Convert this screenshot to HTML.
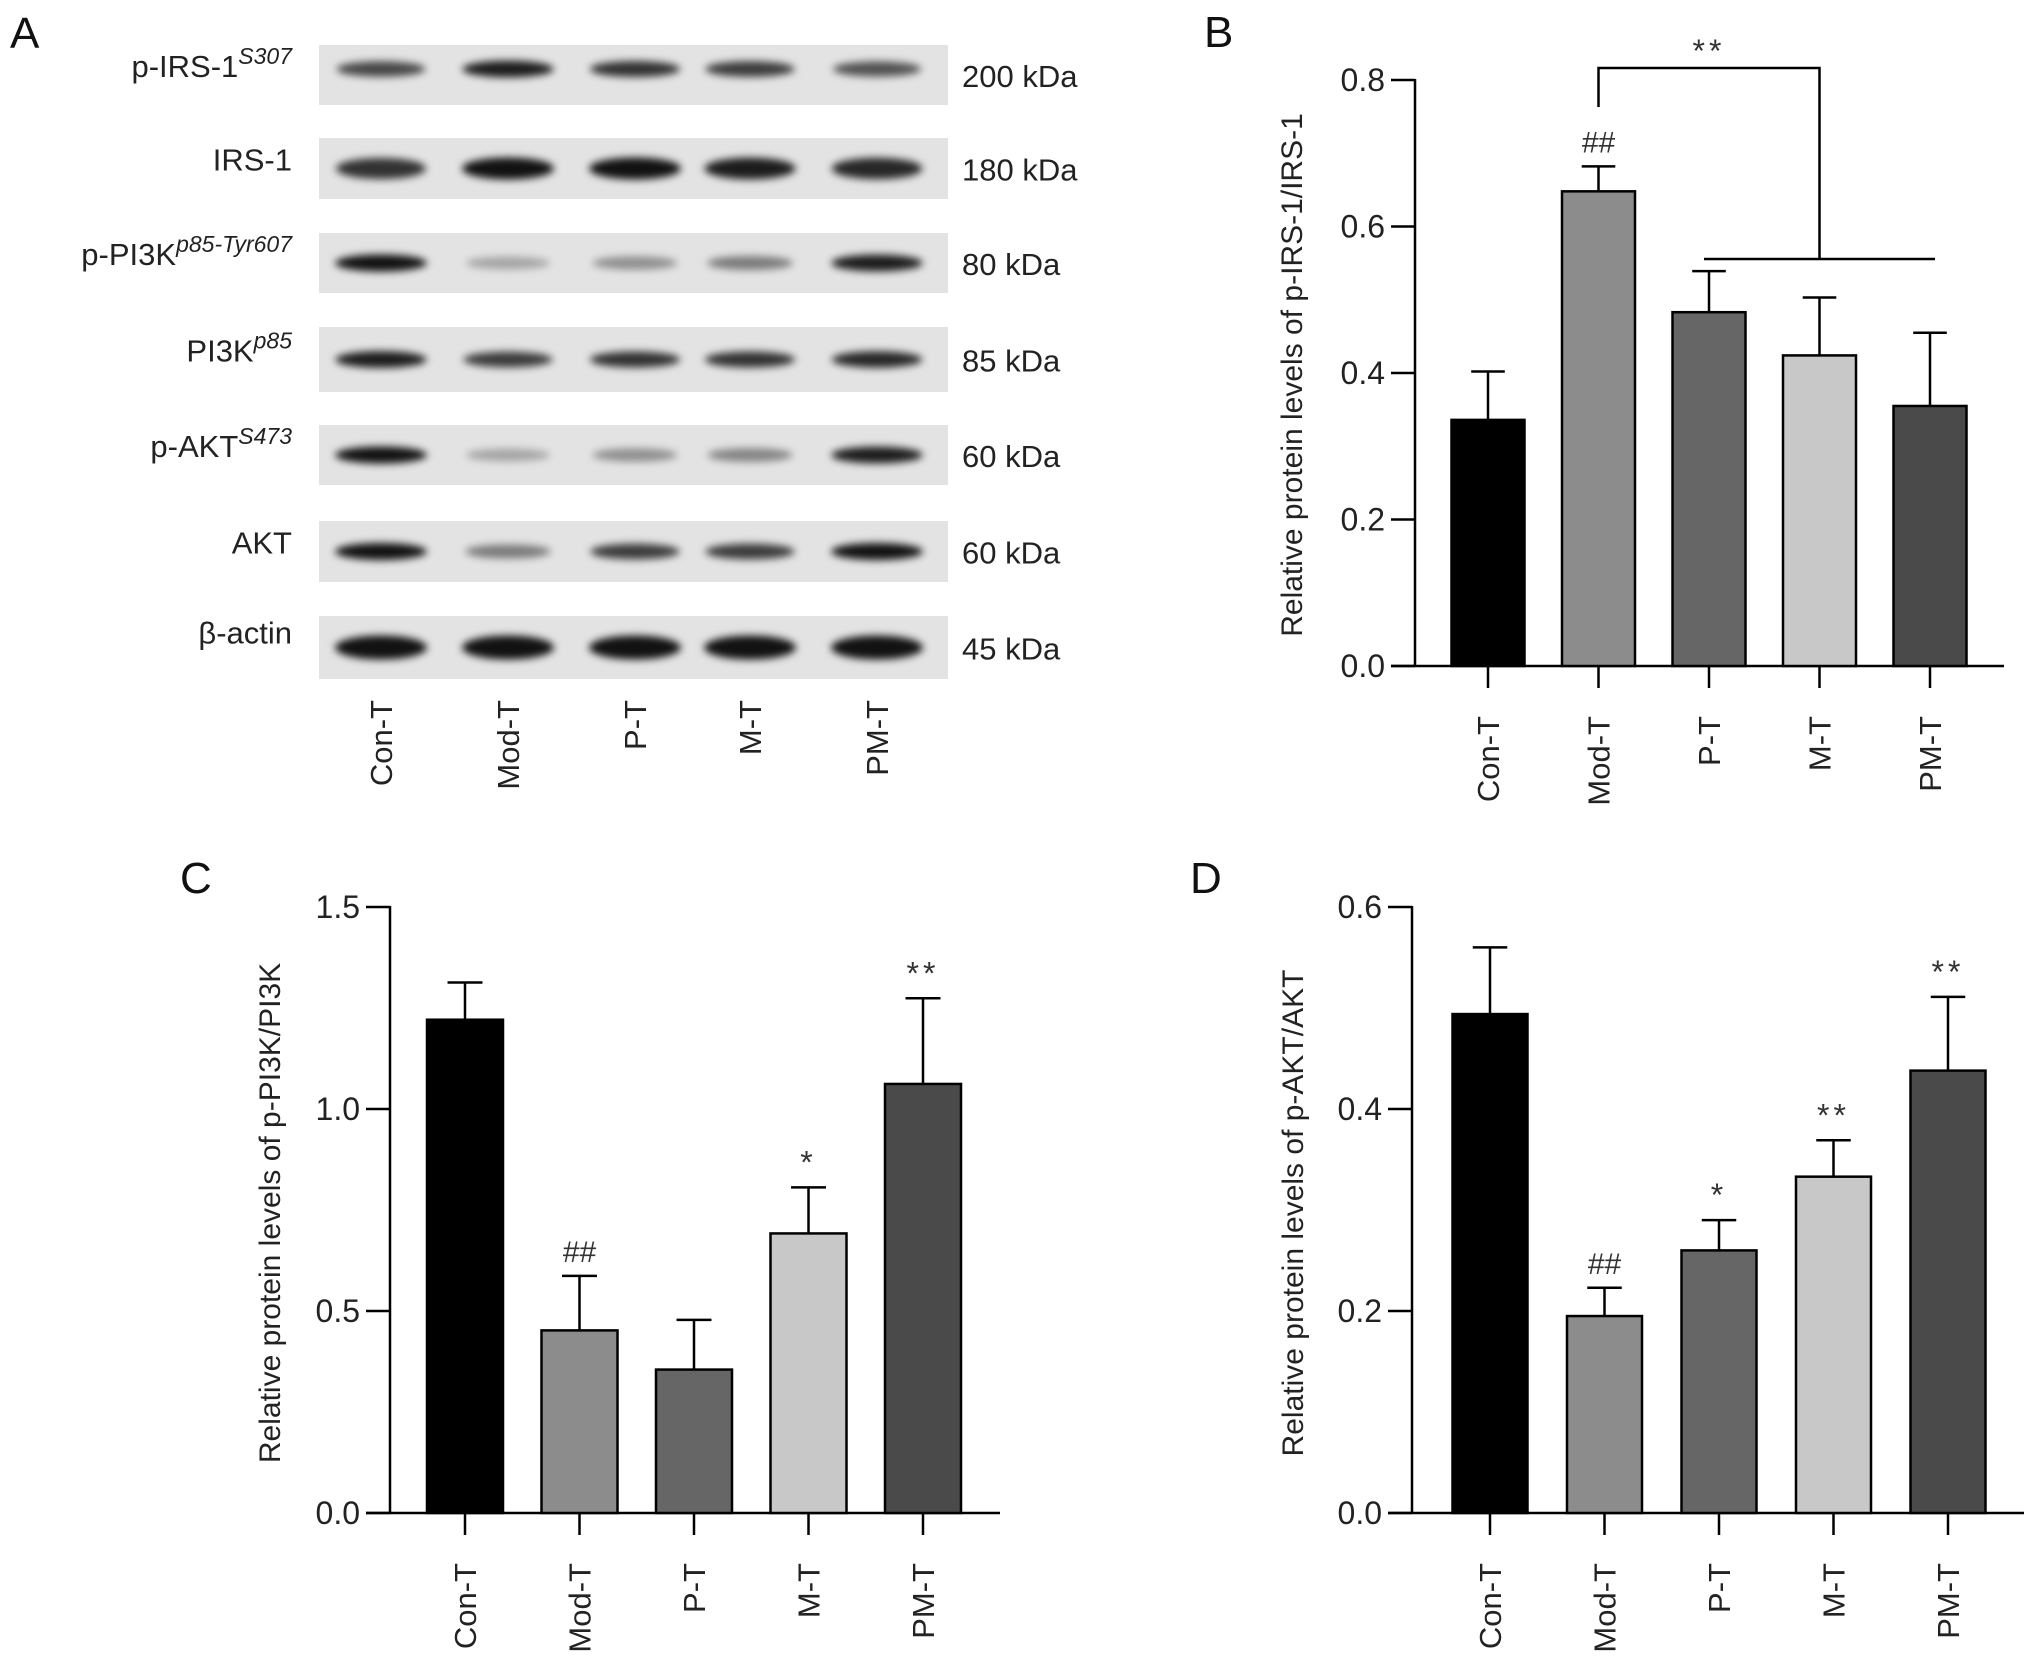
<!DOCTYPE html>
<html><head><meta charset="utf-8"><style>
html,body{margin:0;padding:0;background:#fff;}
svg{display:block;font-family:"Liberation Sans",Arial,sans-serif;}
</style></head><body>
<svg id="fig" width="2032" height="1664" viewBox="0 0 2032 1664" xmlns="http://www.w3.org/2000/svg">
<defs><filter id="blur" x="-20%" y="-80%" width="140%" height="260%"><feGaussianBlur stdDeviation="4"/></filter></defs>
<g id="panelA"></g>
<g id="panelB"></g>
<g id="panelC"></g>
<g id="panelD"></g>
</svg>
<script>
const categories = ["Con-T","Mod-T","P-T","M-T","PM-T"];
const barColors = ["#000000","#8c8c8c","#666666","#c8c8c8","#4a4a4a"];
const valuesB = [0.336,0.648,0.483,0.424,0.355];
const errorsB = [0.402,0.682,0.539,0.503,0.455];
const ticksB = ["0.0","0.2","0.4","0.6","0.8"];
const marksB = ["","##","","",""];
const valuesC = [1.221,0.452,0.355,0.692,1.062];
const errorsC = [1.313,0.587,0.478,0.806,1.274];
const ticksC = ["0.0","0.5","1.0","1.5"];
const marksC = ["","##","","*","**"];
const valuesD = [0.494,0.195,0.260,0.333,0.438];
const errorsD = [0.560,0.223,0.290,0.369,0.511];
const ticksD = ["0.0","0.2","0.4","0.6"];
const marksD = ["","##","*","**","**"];
const blotRows = ["p-IRS-1","IRS-1","p-PI3K","PI3K","p-AKT","AKT","β-actin"];
const blotSups = ["S307","","p85-Tyr607","p85","S473","",""];
const blotKda = ["200 kDa","180 kDa","80 kDa","85 kDa","60 kDa","60 kDa","45 kDa"];
const blotIntensity = [
 [0.75,0.95,0.85,0.8,0.7],
 [0.85,1,1,0.95,0.9],
 [1,0.3,0.4,0.5,0.95],
 [0.95,0.8,0.85,0.85,0.9],
 [1,0.3,0.4,0.45,0.95],
 [1,0.5,0.8,0.8,1],
 [1,1,1,1,1]];

const NS="http://www.w3.org/2000/svg";
function mk(parent,tag,attrs,text){const e=document.createElementNS(NS,tag);for(const k in attrs)e.setAttribute(k,attrs[k]);if(text!==undefined)e.textContent=text;parent.appendChild(e);return e;}

function chart(g,o){
  const yS=v=>o.y0-(v/o.ymax)*(o.y0-o.ytop);
  const xS=i=>o.x1+i*o.step;
  let ax=mk(g,'line',{x1:o.ax,y1:o.ytop-1,x2:o.ax,y2:o.y0,stroke:'#000','stroke-width':2.5});
  
  
  let bx=mk(g,'line',{x1:o.ax-24,y1:o.y0,x2:o.xend,y2:o.y0,stroke:'#000','stroke-width':2.5});
  
  
  o.ticks.forEach(t=>{const y=yS(parseFloat(t));
    mk(g,'line',{x1:o.ax-24,y1:y,x2:o.ax,y2:y,stroke:'#000','stroke-width':2.5});
    let tl=mk(g,'text',{x:o.ax-30,y:y+11,'text-anchor':'end','font-size':32,fill:'#222'},t);
    
    
  });
  categories.forEach((c,i)=>{const cx=xS(i);const w=o.bw;
    const yt=yS(o.vals[i]);
    mk(g,'line',{x1:cx,y1:yS(o.errs[i]),x2:cx,y2:yt,stroke:'#000','stroke-width':2.5});
    mk(g,'line',{x1:cx-w*0.23,y1:yS(o.errs[i]),x2:cx+w*0.23,y2:yS(o.errs[i]),stroke:'#000','stroke-width':2.5});
    let r=mk(g,'rect',{x:cx-w/2,y:yt,width:w,height:o.y0-yt,fill:barColors[i],stroke:'#000','stroke-width':2.5});
    
    
    mk(g,'line',{x1:cx,y1:o.y0,x2:cx,y2:o.y0+22,stroke:'#000','stroke-width':2.5});
    let cl=mk(g,'text',{x:0,y:0,transform:`translate(${cx+11},${o.y0+50}) rotate(-90)`,'text-anchor':'end','font-size':31,fill:'#222'},c);
    
    
    if(o.marks[i]){let m=mk(g,'text',{x:cx,y:yS(o.errs[i])-14,'text-anchor':'middle','font-size':o.marks[i][0]=='#'?30:32,'letter-spacing':o.marks[i][0]=='*'?4:0,fill:'#333'},o.marks[i]);
      
      }
  });
  let yl=mk(g,'text',{x:0,y:0,transform:`translate(${o.ylx},${o.yly}) rotate(-90)`,'text-anchor':'middle','font-size':30,fill:'#222'},o.ylabel);
  
  
  let pl=mk(g,'text',{x:o.lx,y:o.ly,'font-size':44,fill:'#111'},o.letter);
  
  
  return {xS,yS};
}

const B=chart(document.getElementById('panelB'),{ax:1415,xend:2004,x1:1488,step:110.5,bw:73,y0:666,ytop:80,ymax:0.8,ticks:ticksB,vals:valuesB,errs:errorsB,marks:marksB,ylabel:"Relative protein levels of p-IRS-1/IRS-1",ylx:1302,yly:375,letter:"B",lx:1204,ly:47});
(function(){const g=document.getElementById('panelB');
  const yb=68, x1=B.xS(1), x2=B.xS(3), yh=259;
  const br=mk(g,'path',{d:`M${x1},107 V${yb} H${x2} V${yh} M${B.xS(2)-5},${yh} H${B.xS(4)+5}`,fill:'none',stroke:'#000','stroke-width':2.5});
  
  
  const t=mk(g,'text',{x:(x1+x2)/2,y:62,'text-anchor':'middle','font-size':32,'letter-spacing':4,fill:'#333'},"**");
  
  
})();
chart(document.getElementById('panelC'),{ax:390,xend:1000,x1:465,step:114.5,bw:76,y0:1513,ytop:907,ymax:1.5,ticks:ticksC,vals:valuesC,errs:errorsC,marks:marksC,ylabel:"Relative protein levels of p-PI3K/PI3K",ylx:280,yly:1213,letter:"C",lx:180,ly:893});
chart(document.getElementById('panelD'),{ax:1412,xend:2024,x1:1490,step:114.5,bw:75,y0:1513,ytop:907,ymax:0.6,ticks:ticksD,vals:valuesD,errs:errorsD,marks:marksD,ylabel:"Relative protein levels of p-AKT/AKT",ylx:1303,yly:1213,letter:"D",lx:1190,ly:893});

(function(){const g=document.getElementById('panelA');
  let a=mk(g,'text',{x:10,y:48,'font-size':44,fill:'#111'},"A");
  
  
  const rowTop=[45,138,233,327,425,521,616], rowH=[60,61,60,65,60,61,63];
  const lanes=[381,508,635,750,877];
  blotRows.forEach((r,ri)=>{
    const y=rowTop[ri], h=rowH[ri];
    let s=mk(g,'rect',{x:319,y:y,width:629,height:h,fill:'#e3e3e3'});
    
    
    lanes.forEach((cx,li)=>{const v=blotIntensity[ri][li];
      const bh=ri==6?24:(ri==1?16:11)+v*6;
      mk(g,'ellipse',{cx:cx,cy:y+h/2+(ri==0?-6:0),rx:40+v*6,ry:bh/2,fill:'#000','fill-opacity':v*0.92,filter:'url(#blur)'});
    });
    const ty=y+h/2+(ri==6?-4:2);
    let lt=mk(g,'text',{x:292,y:ty,'text-anchor':'end','font-size':31,fill:'#222'});
    
    
    const t1=document.createElementNS(NS,'tspan');t1.textContent=r;lt.appendChild(t1);
    if(blotSups[ri]){const t2=document.createElementNS(NS,'tspan');t2.setAttribute('font-size',23);t2.setAttribute('font-style','italic');t2.setAttribute('dy',-13);t2.textContent=blotSups[ri];lt.appendChild(t2);}
    let k=mk(g,'text',{x:962,y:y+h/2+12,'font-size':31,fill:'#222'},blotKda[ri]);
    
    
  });
  categories.forEach((c,i)=>{
    let t=mk(g,'text',{x:0,y:0,transform:`translate(${lanes[i]+11},700) rotate(-90)`,'text-anchor':'end','font-size':31,fill:'#222'},c);
    
    
  });
})();
</script>
</body></html>
